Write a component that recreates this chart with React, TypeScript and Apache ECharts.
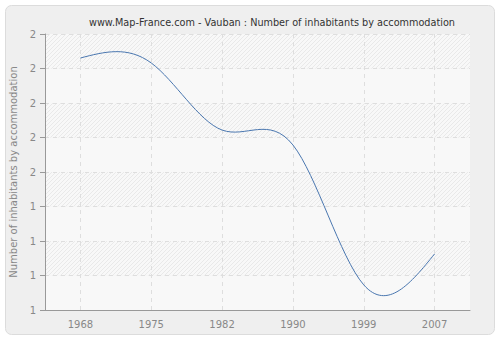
import React, { useEffect, useRef } from "react";
import * as echarts from "echarts";

const years = ["1968", "1975", "1982", "1990", "1999", "2007"];
const values = [1.913, 1.895, 1.652, 1.598, 1.091, 1.203];
const yMin = 1;
const yMax = 2;
const yStep = 0.125;

function makeHatch(): HTMLCanvasElement {
  const c = document.createElement("canvas");
  c.width = 4;
  c.height = 4;
  const ctx = c.getContext("2d")!;
  ctx.fillStyle = "#f8f8f8";
  ctx.fillRect(0, 0, 4, 4);
  ctx.strokeStyle = "#e9e9e9";
  ctx.lineWidth = 1;
  ctx.beginPath();
  ctx.moveTo(0, 4);
  ctx.lineTo(4, 0);
  ctx.moveTo(-2, 2);
  ctx.lineTo(2, -2);
  ctx.moveTo(2, 6);
  ctx.lineTo(6, 2);
  ctx.stroke();
  return c;
}

// natural cubic spline through pixel points, returned as SVG path data
function splinePath(pts: number[][]): string {
  const n = pts.length - 1;
  if (n < 1) return "";
  const h: number[] = [];
  for (let i = 0; i < n; i++) h.push(pts[i + 1][0] - pts[i][0]);
  const M = new Array(n + 1).fill(0);
  if (n > 1) {
    const a: number[] = [], b: number[] = [], c: number[] = [], d: number[] = [];
    for (let i = 1; i < n; i++) {
      a.push(h[i - 1]);
      b.push(2 * (h[i - 1] + h[i]));
      c.push(h[i]);
      d.push(
        6 * ((pts[i + 1][1] - pts[i][1]) / h[i] - (pts[i][1] - pts[i - 1][1]) / h[i - 1])
      );
    }
    const m = b.length;
    const cp = new Array(m).fill(0);
    const dp = new Array(m).fill(0);
    cp[0] = c[0] / b[0];
    dp[0] = d[0] / b[0];
    for (let i = 1; i < m; i++) {
      const den = b[i] - a[i] * cp[i - 1];
      cp[i] = c[i] / den;
      dp[i] = (d[i] - a[i] * dp[i - 1]) / den;
    }
    const sol = new Array(m).fill(0);
    sol[m - 1] = dp[m - 1];
    for (let i = m - 2; i >= 0; i--) sol[i] = dp[i] - cp[i] * sol[i + 1];
    for (let i = 0; i < m; i++) M[i + 1] = sol[i];
  }
  let path = `M${pts[0][0]},${pts[0][1]}`;
  for (let i = 0; i < n; i++) {
    const [x0, y0] = pts[i];
    const [x1, y1] = pts[i + 1];
    const hi = h[i];
    const s0 = (y1 - y0) / hi - (hi * (2 * M[i] + M[i + 1])) / 6;
    const s1 = (y1 - y0) / hi + (hi * (M[i] + 2 * M[i + 1])) / 6;
    const c1x = x0 + hi / 3, c1y = y0 + (s0 * hi) / 3;
    const c2x = x1 - hi / 3, c2y = y1 - (s1 * hi) / 3;
    path += ` C${c1x},${c1y} ${c2x},${c2y} ${x1},${y1}`;
  }
  return path;
}

export default function App() {
  const ref = useRef<HTMLDivElement>(null);
  useEffect(() => {
    if (!ref.current) return;
    const chart = echarts.init(ref.current, null, { renderer: "svg" });
    const hatch = makeHatch();
    chart.setOption({
      animation: false,
      backgroundColor: "transparent",
      graphic: [
        {
          type: "rect",
          shape: { x: 5.5, y: 5.5, width: 489, height: 329, r: 6 },
          style: { fill: "#efefef", stroke: "#dcdcdc", lineWidth: 1 },
          z: -10,
          silent: true,
        },
      ],
      title: {
        text: "www.Map-France.com - Vauban : Number of inhabitants by accommodation",
        left: 267,
        top: 12,
        textAlign: "center",
        textStyle: {
          fontFamily: "DejaVu Sans",
          fontSize: 9.7,
          fontWeight: "normal",
          color: "#333",
        },
      },
      grid: { left: 40, right: 30, top: 34, bottom: 30, containLabel: false },
      xAxis: {
        type: "category",
        data: years,
        boundaryGap: true,
        axisLine: { lineStyle: { color: "#999" } },
        axisTick: { alignWithLabel: true, length: 5, lineStyle: { color: "#999" } },
        axisLabel: { color: "#888", fontSize: 10, fontFamily: "DejaVu Sans", margin: 9 },
        splitLine: {
          show: true,
          alignWithLabel: true,
          lineStyle: { color: "#dedede", type: [4, 4] },
        },
      } as any,
      yAxis: {
        type: "value",
        min: yMin,
        max: yMax,
        interval: yStep,
        name: "Number of inhabitants by accommodation",
        nameLocation: "middle",
        nameGap: 27,
        nameTextStyle: { color: "#888", fontSize: 10, fontFamily: "DejaVu Sans" },
        axisLine: { show: true, lineStyle: { color: "#999" } },
        axisTick: { show: true, length: 5, lineStyle: { color: "#999" } },
        axisLabel: {
          color: "#888",
          fontSize: 10,
          fontFamily: "DejaVu Sans",
          margin: 9,
          formatter: (v: number) => String(Math.round(v)),
        },
        splitLine: { show: true, lineStyle: { color: "#dedede", type: [4, 4] } },
        splitArea: {
          show: true,
          areaStyle: {
            color: ["#f8f8f8", { image: hatch, repeat: "repeat" }],
          },
        },
      },
      series: [
        {
          type: "custom",
          data: values.map((v, i) => [i, v]),
          encode: { x: 0, y: 1 },
          renderItem: (params: any, api: any) => {
            if (params.dataIndex !== 0) return null;
            const pts = values.map((v, i) => api.coord([i, v]));
            return {
              type: "path",
              shape: { pathData: splinePath(pts) },
              style: { stroke: "#4a77b0", fill: "none", lineWidth: 1 },
            };
          },
        },
      ],
    });
    return () => chart.dispose();
  }, []);
  return (
    <div
      ref={ref}
      style={{ position: "absolute", left: 0, top: 0, width: 500, height: 340 }}
    />
  );
}
